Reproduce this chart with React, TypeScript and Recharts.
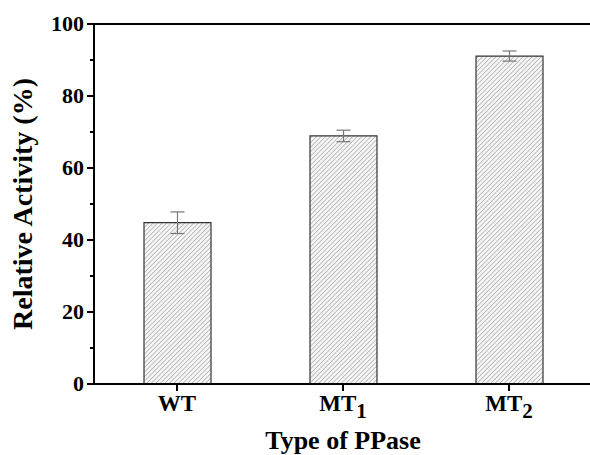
import { BarChart, Bar, XAxis, YAxis, ErrorBar, ReferenceLine } from "recharts";

const types = ["WT", "MT1", "MT2"];
const activity = [44.8, 68.9, 91.1];
const errors = [3.0, 1.6, 1.4];
const yTicks = [0, 10, 20, 30, 40, 50, 60, 70, 80, 90, 100];

const data = types.map((t, i) => ({ type: t, activity: activity[i], err: errors[i] }));

const FONT = "'Liberation Serif', 'Times New Roman', serif";

function YTick(props: any) {
  const { x, y, payload } = props;
  const major = payload.value % 20 === 0;
  return (
    <g>
      <line x1={x - (major ? 7 : 4)} x2={x} y1={y} y2={y} stroke="#000" strokeWidth={2} />
      {major && (
        <text x={x - 10} y={y} dy={7} textAnchor="end" fontFamily={FONT} fontWeight="bold" fontSize={22} fill="#000">
          {payload.value}
        </text>
      )}
    </g>
  );
}

function XTick(props: any) {
  const { x, y, payload } = props;
  const label: string = payload.value;
  const base = label.replace(/\d+$/, "");
  const sub = label.slice(base.length);
  return (
    <g>
      <line x1={x} x2={x} y1={y} y2={y + 7} stroke="#000" strokeWidth={2} />
      <text x={x} y={y + 27} textAnchor="middle" fontFamily={FONT} fontWeight="bold" fontSize={23} fill="#000">
        {base}
        {sub && (
          <tspan dy={7} fontSize={21}>
            {sub}
          </tspan>
        )}
      </text>
    </g>
  );
}

export default function App() {
  return (
    <div style={{ position: "absolute", left: 0, top: 0, width: 590, height: 455, overflow: "hidden", background: "#fff" }}>
      <BarChart width={600} height={455} data={data} margin={{ top: 24, right: 8, left: 0, bottom: 0 }} barCategoryGap={0}>
        <defs>
          <pattern id="hatch" patternUnits="userSpaceOnUse" width={3.2} height={3.2} patternTransform="rotate(45)">
            <rect width={3.2} height={3.2} fill="#f6f6f6" />
            <line x1={0} y1={0} x2={0} y2={3.2} stroke="#8a8a8a" strokeWidth={1} />
          </pattern>
        </defs>
        <XAxis
          dataKey="type"
          height={71}
          axisLine={{ stroke: "#000", strokeWidth: 2 }}
          tickLine={false}
          tickSize={0}
          tickMargin={0}
          tick={<XTick />}
          interval={0}
          label={{
            value: "Type of PPase",
            position: "insideBottom",
            offset: 6,
            fontFamily: FONT,
            fontWeight: "bold",
            fontSize: 26,
            fill: "#000",
          }}
        />
        <YAxis
          width={94}
          domain={[0, 100]}
          ticks={yTicks}
          interval={0}
          axisLine={{ stroke: "#000", strokeWidth: 2 }}
          tickLine={false}
          tickSize={0}
          tickMargin={0}
          tick={<YTick />}
          label={{
            value: "Relative Activity (%)",
            angle: -90,
            position: "insideLeft",
            offset: 0,
            dx: 22,
            fontFamily: FONT,
            fontWeight: "bold",
            fontSize: 28,
            fill: "#000",
            style: { textAnchor: "middle" },
          }}
        />
        <ReferenceLine y={100} stroke="#000" strokeWidth={2} ifOverflow="visible" />
        <Bar dataKey="activity" barSize={67} fill="url(#hatch)" stroke="#333" strokeWidth={1.2} isAnimationActive={false}>
          <ErrorBar dataKey="err" width={7} stroke="#777" strokeWidth={1.2} />
        </Bar>
      </BarChart>
    </div>
  );
}
